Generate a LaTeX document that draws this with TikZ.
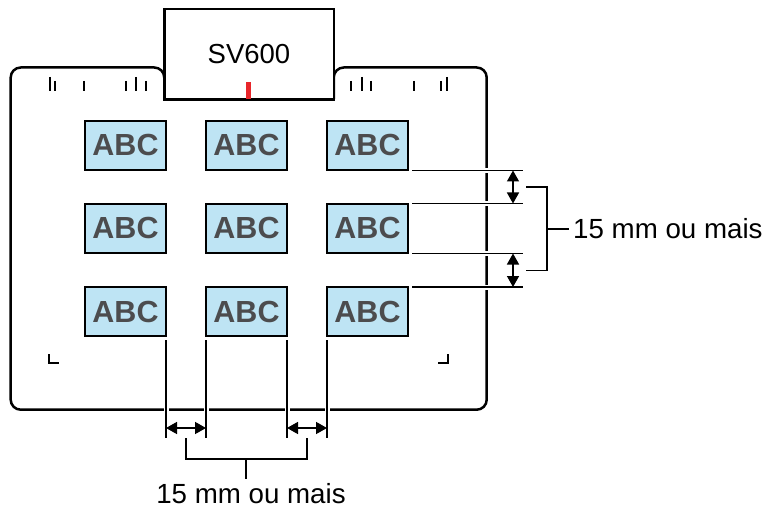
\documentclass[tikz,border=0pt]{standalone}
\usepackage{fontspec}
\setmainfont{Liberation Sans}
\usetikzlibrary{arrows.meta,calc}
\definecolor{cardblue}{RGB}{190,228,244}
\definecolor{abcgray}{RGB}{76,76,78}
\definecolor{tickred}{RGB}{232,38,42}
\begin{document}
\begin{tikzpicture}[x=1pt,y=-1pt,
  mat/.style={line width=2.5pt, rounded corners=10pt},
  card/.style={draw, fill=cardblue, line width=2pt, minimum width=81pt, minimum height=49pt, inner sep=0pt, outer sep=0pt, font=\fontsize{30.5}{32}\selectfont\bfseries, text=abcgray},
  svbox/.style={draw, fill=white, line width=2.5pt, minimum width=169.5pt, minimum height=90.5pt, inner sep=0pt, outer sep=0pt, font=\fontsize{27.5}{30}\selectfont},
  tickmark/.style={line width=2pt},
  ext/.style={line width=1.1pt, preaction={draw=white, line width=5pt}},
  dim/.style={line width=1.5pt, {Triangle[length=11pt,width=12pt]}-{Triangle[length=11pt,width=12pt]}},
  brk/.style={line width=1.3pt},
  lbl/.style={font=\fontsize{27.7}{30}\selectfont, inner sep=4pt}
]
\useasboundingbox (0,0) rectangle (768,513);

% mat outline
\draw[mat] (164.25,99) -- (164.25,67.5) -- (10.7,67.5) -- (10.7,409.7) -- (486.7,409.7) -- (486.7,67.5) -- (333.75,67.5) -- (333.75,99);

% scanner head
\node[svbox] (sv) at (249,54.5) {SV600};
\fill[tickred] ($(sv.south)+(-3,-17.75)$) rectangle ($(sv.south)+(2,-0.75)$);

% tick marks
\foreach \x/\t in {49.5/77,55/81,84/81,126/81,136/77,146/81,351/81,362/77,371/81,414/81,441/81,447/77}
  \draw[tickmark] (\x,\t) -- (\x,91);
\draw[tickmark] (49,354) -- (49,363) -- (59,363);
\draw[tickmark] (438,363) -- (448,363) -- (448,354);

% cards
\foreach \r/\y in {1/145.5,2/228.5,3/311.5}
  \foreach \c/\x in {1/125.5,2/246.5,3/367.5}
    \node[card] (c\r\c) at (\x,\y) {ABC};

% right extension lines
\draw[ext] ($(c13.south east)+(4,0.5)$) coordinate (r1s) -- ++(111,0) coordinate (r1e);
\draw[ext] ($(c23.north east)+(4,-0.5)$) coordinate (r2s) -- ++(111,0) coordinate (r2e);
\draw[ext] ($(c23.south east)+(4,0.5)$) coordinate (r3s) -- ++(111,0) coordinate (r3e);
\draw[ext] ($(c33.north east)+(4,0)$) coordinate (r4s) -- ++(111,0) coordinate (r4e);

\coordinate (ra1t) at ($(r1s)+(101,0)$);
\coordinate (ra1b) at ($(r2s)+(101,0)$);
\coordinate (ra2t) at ($(r3s)+(101,0)$);
\coordinate (ra2b) at ($(r4s)+(101,0)$);
\draw[dim] (ra1t) -- (ra1b);
\draw[dim] (ra2t) -- (ra2b);

\coordinate (rb) at (547,229);
\draw[brk] ($(ra1t)!0.5!(ra1b)+(13,0)$) -| (rb) |- ($(ra2t)!0.5!(ra2b)+(13,0)$);
\node[lbl, anchor=west] (rl) at ($(rb)+(22,0)$) {15 mm ou mais};
\draw[brk] (rb) -- (rl.west);

% bottom extension lines
\draw[ext] ($(c31.south east)+(0,4)$) coordinate (b1s) -- ++(0,98) coordinate (b1e);
\draw[ext] ($(c32.south west)+(0,4)$) coordinate (b2s) -- ++(0,98) coordinate (b2e);
\draw[ext] ($(c32.south east)+(0,4)$) coordinate (b3s) -- ++(0,98) coordinate (b3e);
\draw[ext] ($(c33.south west)+(0,4)$) coordinate (b4s) -- ++(0,98) coordinate (b4e);

\coordinate (ba1l) at ($(b1s)+(0,88)$);
\coordinate (ba1r) at ($(b2s)+(0,88)$);
\coordinate (ba2l) at ($(b3s)+(0,88)$);
\coordinate (ba2r) at ($(b4s)+(0,88)$);
\draw[dim] (ba1l) -- (ba1r);
\draw[dim] (ba2l) -- (ba2r);

\coordinate (bb) at (246,459);
\draw[brk] ($(ba1l)!0.5!(ba1r)+(0,10)$) |- (bb) -| ($(ba2l)!0.5!(ba2r)+(0,10)$);
\node[lbl, anchor=north] (bl) at ($(bb)+(5,20)$) {15 mm ou mais};
\draw[brk] (bb) -- (bb |- bl.north);
\end{tikzpicture}
\end{document}
